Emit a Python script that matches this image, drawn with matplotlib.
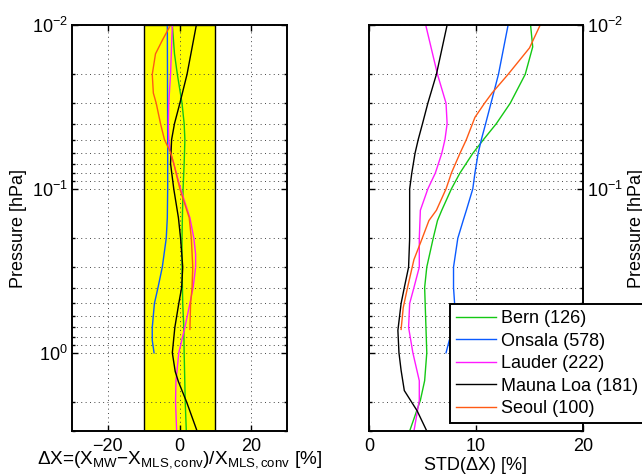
import matplotlib
matplotlib.use('Agg')
import matplotlib.pyplot as plt
from matplotlib.ticker import FixedLocator, LogLocator, NullFormatter, LogFormatterSciNotation

plt.rcParams['font.family'] = ['Liberation Sans', 'DejaVu Sans']
plt.rcParams['mathtext.fontset'] = 'custom'
plt.rcParams['mathtext.rm'] = 'Liberation Sans'
plt.rcParams['mathtext.it'] = 'Liberation Sans:italic'
plt.rcParams['mathtext.bf'] = 'Liberation Sans:bold'
plt.rcParams['mathtext.sf'] = 'Liberation Sans'

# ---------------- data ----------------
station_names = ['Bern (126)', 'Onsala (578)', 'Lauder (222)', 'Mauna Loa (181)', 'Seoul (100)']
station_colors = ['#14c814', '#0a5aff', '#ff1aff', '#000000', '#ff5a14']

# relative difference [%]
bern_p_diff = [0.01, 0.015, 0.02, 0.03, 0.04, 0.05, 0.07, 0.1, 0.15, 0.2, 0.3, 0.5, 0.7, 1.0, 2.0, 3.0]
bern_diff = [-2.0, -1.4, -0.6, 0.7, 1.3, 1.5, 1.3, 1.0, 0.8, 0.7, 0.7, 0.9, 1.2, 1.3, 1.6, 1.9]

onsala_p_diff = [0.01, 0.05, 0.1, 0.15, 0.2, 0.3, 0.4, 0.5, 0.7, 0.84, 1.0]
onsala_diff = [-3.4, -3.3, -3.3, -3.4, -3.7, -4.8, -6.0, -7.0, -7.6, -7.6, -7.1]

lauder_p_diff = [0.01, 0.02, 0.03, 0.04, 0.05, 0.06, 0.07, 0.1, 0.15, 0.2, 0.25, 0.3, 0.4, 0.5, 0.7, 1.0, 1.5, 2.0, 3.0]
lauder_diff = [-2.0, -2.5, -3.0, -3.1, -3.0, -2.5, -1.6, 0.3, 2.9, 4.0, 4.5, 4.5, 3.8, 2.9, 1.5, -0.2, -1.0, -1.1, -0.8]

maunaloa_p_diff = [0.01, 0.02, 0.03, 0.04, 0.05, 0.07, 0.1, 0.15, 0.2, 0.3, 0.4, 0.5, 0.7, 1.0, 1.3, 1.5, 2.0, 3.0]
maunaloa_diff = [4.7, 2.1, 0.1, -1.4, -2.2, -2.5, -1.6, -0.3, 0.3, 0.9, 0.6, -0.2, -1.3, -2.0, -1.2, -0.3, 2.0, 4.9]

seoul_p_diff = [0.01, 0.0124, 0.015, 0.02, 0.026, 0.03, 0.04, 0.05, 0.06, 0.07, 0.1, 0.15, 0.2, 0.3, 0.4, 0.5, 0.72]
seoul_diff = [-2.5, -4.8, -6.7, -7.6, -7.3, -6.5, -5.3, -4.2, -2.5, -1.6, 0.1, 2.7, 3.3, 3.7, 3.5, 3.1, 2.9]

# standard deviation [%]
bern_p_std = [0.01, 0.0136, 0.02, 0.03, 0.04, 0.05, 0.0607, 0.08, 0.1, 0.135, 0.156, 0.2, 0.3, 0.4, 0.63, 1.0, 1.48, 1.95, 3.0]
bern_std = [15.1, 15.3, 14.6, 13.2, 11.9, 10.7, 9.7, 8.5, 7.7, 6.8, 6.4, 6.0, 5.4, 5.2, 5.3, 5.4, 5.2, 4.8, 3.8]

onsala_p_std = [0.01, 0.02, 0.03, 0.04, 0.05, 0.0607, 0.08, 0.1, 0.135, 0.156, 0.2, 0.3, 0.4, 0.5, 0.7, 0.84, 1.0]
onsala_std = [13.0, 12.1, 11.4, 10.9, 10.5, 10.2, 9.9, 9.7, 9.1, 8.8, 8.3, 7.9, 7.9, 8.0, 7.9, 7.5, 7.2]

lauder_p_std = [0.01, 0.02, 0.03, 0.04, 0.05, 0.0607, 0.08, 0.1, 0.135, 0.2, 0.3, 0.4, 0.5, 0.7, 1.0, 1.48, 1.95, 3.0]
lauder_std = [5.3, 6.4, 7.2, 7.3, 7.1, 6.8, 6.2, 5.5, 4.8, 4.7, 4.7, 4.2, 3.8, 3.7, 4.1, 4.7, 4.7, 4.2]

maunaloa_p_std = [0.01, 0.02, 0.03, 0.04, 0.05, 0.0607, 0.08, 0.1, 0.2, 0.3, 0.4, 0.5, 0.73, 1.0, 1.28, 1.7, 2.26, 3.0]
maunaloa_std = [7.3, 6.3, 5.5, 5.0, 4.6, 4.3, 4.0, 3.8, 3.8, 3.7, 3.3, 3.0, 2.7, 2.8, 3.0, 3.3, 4.5, 5.4]

seoul_p_std = [0.01, 0.0138, 0.02, 0.026, 0.03, 0.0366, 0.05, 0.0607, 0.08, 0.1, 0.135, 0.156, 0.206, 0.27, 0.4, 0.53, 0.72]
seoul_std = [16.0, 15.0, 13.0, 11.5, 10.8, 9.9, 9.1, 8.5, 7.7, 7.2, 6.3, 5.6, 4.9, 4.2, 3.6, 3.2, 3.0]

band_limits = [-10, 10]
diff_xticks = [-20, 0, 20]
std_xticks = [0, 10, 20]

diff_series = [(bern_p_diff, bern_diff), (onsala_p_diff, onsala_diff), (lauder_p_diff, lauder_diff),
               (maunaloa_p_diff, maunaloa_diff), (seoul_p_diff, seoul_diff)]
std_series = [(bern_p_std, bern_std), (onsala_p_std, onsala_std), (lauder_p_std, lauder_std),
              (maunaloa_p_std, maunaloa_std), (seoul_p_std, seoul_std)]

# ---------------- figure ----------------
W, H = 642, 474
fig = plt.figure(figsize=(W / 100, H / 100), dpi=100)

def fr(x0, y0, x1, y1):
    return [x0 / W, 1 - y1 / H, (x1 - x0) / W, (y1 - y0) / H]

ax1 = fig.add_axes(fr(72, 25, 287, 431))
ax2 = fig.add_axes(fr(369, 25, 583, 431))

FS = 13
grid_kw = dict(color='#444444', linestyle=(0, (1, 3.5)), linewidth=0.7)

def style(ax):
    ax.set_yscale('log')
    ax.set_ylim(3, 0.01)
    ax.yaxis.set_major_locator(FixedLocator([0.01, 0.1, 1]))
    ax.yaxis.set_major_formatter(LogFormatterSciNotation())
    ax.yaxis.set_minor_locator(LogLocator(base=10, subs=range(2, 10), numticks=20))
    ax.yaxis.set_minor_formatter(NullFormatter())
    ax.tick_params(which='both', direction='in', top=True, right=True, labelsize=FS, width=1)
    ax.tick_params(which='major', length=4)
    ax.tick_params(which='minor', length=2)
    ax.tick_params(axis='x', pad=5)
    ax.tick_params(axis='y', pad=3)
    ax.grid(True, which='major', axis='both', **grid_kw)
    ax.grid(True, which='minor', axis='y', **grid_kw)
    ax.set_axisbelow(False)
    for s in ax.spines.values():
        s.set_linewidth(1.4)
        s.set_zorder(5)

style(ax1)
style(ax2)

ax1.axvspan(band_limits[0], band_limits[1], facecolor='#ffff00', edgecolor='black', linewidth=1.0, zorder=1)
for (p, v), c in zip(diff_series, station_colors):
    ax1.plot(v, p, color=c, linewidth=1.0, zorder=3)
ax1.set_xlim(-30, 30)
ax1.set_xticks(diff_xticks)
ax1.set_ylabel('Pressure [hPa]', fontsize=FS)
ax1.yaxis.set_label_coords(-0.25, 0.5)
ax1.yaxis.label.set_va('center')
ax1.set_xlabel(r'ΔX=(X$_{\mathrm{MW}}$−X$_{\mathrm{MLS,conv}}$)/X$_{\mathrm{MLS,conv}}$ [%]', fontsize=13.7)
ax1.xaxis.set_label_coords(0.5, -0.079)
ax1.xaxis.label.set_va('baseline')

handles = []
for (p, v), c, n in zip(std_series, station_colors, station_names):
    h, = ax2.plot(v, p, color=c, linewidth=1.0, zorder=3, label=n)
    handles.append(h)
ax2.set_xlim(0, 20)
ax2.set_xticks(std_xticks)
ax2.tick_params(axis='y', labelleft=False, labelright=True)
ax2.yaxis.set_label_position('right')
ax2.set_ylabel('Pressure [hPa]', fontsize=FS)
ax2.yaxis.set_label_coords(1.25, 0.5)
ax2.yaxis.label.set_va('center')
ax2.yaxis.label.set_rotation(90)
ax2.set_xlabel('STD(ΔX) [%]', fontsize=FS)
ax2.xaxis.set_label_coords(0.5, -0.096)
ax2.xaxis.label.set_va('baseline')

leg = fig.legend(handles=handles, loc='upper left', bbox_to_anchor=(450 / W, 1 - 304 / H),
                 fontsize=FS, frameon=True, fancybox=False, shadow=False, framealpha=1,
                 edgecolor='black', handlelength=2.2, handletextpad=0.3, labelspacing=0.3,
                 borderpad=0.35, borderaxespad=0)
leg.get_frame().set_linewidth(1.4)

fig.savefig('out.png', dpi=100)
